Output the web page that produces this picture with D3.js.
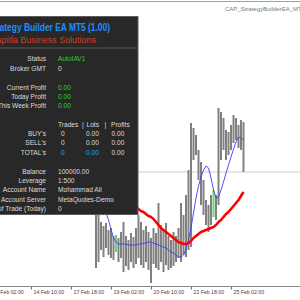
<!DOCTYPE html>
<html>
<head>
<meta charset="utf-8">
<script src="https://cdn.jsdelivr.net/npm/d3@7"></script>
<style>
body { margin: 0; background: #fff; }
svg { display: block; font-family: "Liberation Sans", Arial, sans-serif; }
</style>
</head>
<body>
<div id="chart"></div>
<script>
// price bars (H2), highs and lows
var barHigh = [2795, 2785, 2778, 2774, 2777, 2770, 2772, 2764, 2765, 2762,
               2768, 2778, 2764, 2760, 2767, 2763, 2772, 2785, 2778, 2770,
               2774, 2768, 2762, 2772, 2767, 2797, 2775, 2770, 2777, 2764,
               2760, 2768, 2764, 2772, 2797, 2785, 2805, 2830, 2877, 2872,
               2865, 2850, 2838, 2820, 2800, 2795, 2805, 2810, 2805, 2892,
               2888, 2882, 2870, 2868, 2875, 2885, 2882, 2875, 2880, 2878];
var barLow = [2732, 2738, 2750, 2743, 2752, 2745, 2742, 2740, 2748, 2738,
              2742, 2728, 2734, 2730, 2738, 2732, 2736, 2742, 2735, 2732,
              2738, 2730, 2717, 2736, 2732, 2730, 2738, 2728, 2735, 2730,
              2732, 2734, 2738, 2742, 2738, 2745, 2743, 2750, 2753, 2840,
              2845, 2820, 2795, 2785, 2775, 2768, 2775, 2783, 2780, 2795,
              2840, 2850, 2840, 2845, 2850, 2857, 2860, 2852, 2850, 2828];
var greenBars = [8, 47];

// moving averages
var maFast = [2815, 2808, 2800, 2793, 2787, 2780, 2771, 2762, 2758, 2756,
              2756, 2756, 2756, 2755, 2755, 2755, 2755, 2756, 2756, 2757,
              2757, 2758, 2758, 2757, 2756, 2755, 2754, 2753, 2752, 2750,
              2748, 2747, 2745, 2743, 2743, 2745, 2751, 2760, 2772, 2787,
              2802, 2814, 2823, 2830, 2834, 2832, 2822, 2810, 2802, 2803,
              2810, 2818, 2827, 2835, 2843, 2851, 2858, 2863, 2862, 2860];
var maSlow = [2810, 2809, 2808, 2807, 2806, 2805, 2804, 2803, 2801, 2800,
              2799, 2798, 2797, 2796, 2795, 2794, 2793, 2791, 2789, 2788,
              2786, 2784, 2783, 2781, 2778, 2775, 2772, 2770, 2768, 2766,
              2764, 2762, 2760, 2758, 2757, 2756, 2756, 2757, 2759, 2762,
              2764, 2766, 2768, 2769, 2770, 2771, 2772, 2773, 2775, 2778,
              2780, 2783, 2786, 2788, 2791, 2794, 2797, 2800, 2804, 2808];
var lastPrice = 2828;

// time axis
var tickIndex = [-42, -26, -10, 6, 22, 38, 54];
var tickLabels = ["11 Feb 02:00", "14 Feb 10:00", "17 Feb 18:00", "19 Feb 02:00",
                  "20 Feb 10:00", "21 Feb 18:00", "25 Feb 02:00"];

// info panel rows
var infoLabels = ["Status", "Broker GMT", "Current Profit", "Today Profit", "This Week Profit"];
var infoValues = ["AutoIAV1", "0", "0.00", "0.00", "0.00"];
var tableHeads = ["Trades", "|", "Lots", "|", "Profits"];
var tableRows = ["BUY's", "SELL's", "TOTAL's"];
var tableValues = [["0", "0.00", "0.00"], ["0", "0.00", "0.00"], ["0", "0.00", "0.00"]];
var accountLabels = ["Balance", "Leverage", "Account Name", "Account Server", "No. of Trade (Today)"];
var accountValues = ["100000.00", "1:500", "Mohammad Ali", "MetaQuotes-Demo", "0"];

var width = 300, height = 300;

var svg = d3.select("#chart").append("svg")
    .attr("width", width)
    .attr("height", height);

svg.append("rect")
    .attr("width", width)
    .attr("height", height)
    .attr("fill", "#ffffff");

var x = d3.scaleLinear().domain([0, 59]).range([96, 243.5]);
var y = d3.scaleLinear().domain([2700, 3000]).range([300, 0]);

// top border and caption
svg.append("line")
    .attr("x1", 0).attr("x2", width)
    .attr("y1", 1.5).attr("y2", 1.5)
    .attr("stroke", "#a0a0a0");

svg.append("text")
    .text("CAP_StrategyBuilderEA_MT5")
    .attr("x", 225)
    .attr("y", 11)
    .attr("font-size", 6)
    .attr("fill", "#777");

// current price line
svg.append("line")
    .attr("x1", 0).attr("x2", width)
    .attr("y1", y(lastPrice)).attr("y2", y(lastPrice))
    .attr("stroke", "#cfcfcf");

// bars
var idx = d3.range(barHigh.length);
svg.append("g").selectAll("line")
    .data(idx)
    .enter()
    .append("line")
    .attr("x1", function(d) { return x(d); })
    .attr("x2", function(d) { return x(d); })
    .attr("y1", function(d) { return y(barHigh[d]); })
    .attr("y2", function(d) { return y(barLow[d]); })
    .attr("stroke", function(d) {
        return greenBars.indexOf(d) >= 0 ? "#6fd36f" : "#808080";
    })
    .attr("stroke-width", 2);

var maLine = d3.line()
    .x(function(d, i) { return x(i); })
    .y(function(d) { return y(d); });

svg.append("path")
    .attr("d", maLine(maSlow))
    .attr("fill", "none")
    .attr("stroke", "#ff0000")
    .attr("stroke-width", 2.6)
    .attr("stroke-linejoin", "round");

svg.append("path")
    .attr("d", maLine(maFast))
    .attr("fill", "none")
    .attr("stroke", "#3a3aff")
    .attr("stroke-width", 0.9);

// time axis
var axis = svg.append("g")
    .attr("transform", "translate(0,286.5)")
    .call(d3.axisBottom(x)
        .tickValues(tickIndex)
        .tickSize(3)
        .tickFormat(function(d, i) { return tickLabels[i]; }));

axis.select(".domain").remove();
axis.selectAll(".tick line").attr("stroke", "#666");
axis.selectAll(".tick text")
    .attr("text-anchor", "start")
    .attr("x", 2)
    .attr("y", 4)
    .attr("dy", "0.71em")
    .attr("font-size", 5.2)
    .attr("font-family", "Liberation Sans, Arial, sans-serif")
    .attr("fill", "#444");

axis.append("line")
    .attr("x1", 0).attr("x2", width)
    .attr("stroke", "#888");

// info panel
var panel = svg.append("g").attr("id", "panel");

panel.append("rect")
    .attr("x", -2)
    .attr("y", 16.5)
    .attr("width", 140)
    .attr("height", 198)
    .attr("fill", "#282828")
    .attr("stroke", "#5c5c5c");

panel.append("text")
    .text("CAP Strategy Builder EA MT5 (1.00)")
    .attr("x", 110)
    .attr("y", 31)
    .attr("text-anchor", "end")
    .attr("font-size", 10.5)
    .attr("font-weight", "bold")
    .attr("textLength", 142)
    .attr("lengthAdjust", "spacingAndGlyphs")
    .attr("fill", "#1e8fff");

panel.append("text")
    .text("Capitla Business Solutions")
    .attr("x", 96)
    .attr("y", 42.5)
    .attr("text-anchor", "end")
    .attr("font-size", 8.5)
    .attr("textLength", 106)
    .attr("lengthAdjust", "spacingAndGlyphs")
    .attr("fill", "#c8402a");

panel.append("line")
    .attr("x1", -2).attr("x2", 138)
    .attr("y1", 48).attr("y2", 48)
    .attr("stroke", "#555");

var fs = 6.6;
var labelX = 46, valueX = 58;
var infoY = [61, 70.5, 89.5, 98.8, 108];

panel.selectAll(".info_label")
    .data(infoLabels)
    .enter()
    .append("text")
    .attr("class", "info_label")
    .text(function(d) { return d; })
    .attr("x", labelX)
    .attr("y", function(d, i) { return infoY[i]; })
    .attr("text-anchor", "end")
    .attr("font-size", fs)
    .attr("fill", "#dcdcdc");

panel.selectAll(".info_value")
    .data(infoValues)
    .enter()
    .append("text")
    .attr("class", "info_value")
    .text(function(d) { return d; })
    .attr("x", valueX)
    .attr("y", function(d, i) { return infoY[i]; })
    .attr("font-size", fs)
    .attr("fill", function(d, i) { return i == 1 ? "#dcdcdc" : "#2ed02e"; });

var headX = [58, 82, 86.5, 104.5, 111];
panel.selectAll(".table_head")
    .data(tableHeads)
    .enter()
    .append("text")
    .attr("class", "table_head")
    .text(function(d) { return d; })
    .attr("x", function(d, i) { return headX[i]; })
    .attr("y", 126.5)
    .attr("font-size", fs)
    .attr("fill", "#dcdcdc");

var rowY = [135.8, 145, 154.5];
var colX = [61, 86, 111.5];

var rows = panel.selectAll(".table_row")
    .data(tableRows)
    .enter()
    .append("g")
    .attr("class", "table_row")
    .attr("transform", function(d, i) { return "translate(0," + rowY[i] + ")"; });

rows.append("text")
    .text(function(d) { return d; })
    .attr("x", labelX)
    .attr("text-anchor", "end")
    .attr("font-size", fs)
    .attr("fill", "#dcdcdc");

rows.selectAll(".cell")
    .data(function(d, i) {
        return tableValues[i].map(function(v, j) { return {v: v, row: i, col: j}; });
    })
    .enter()
    .append("text")
    .attr("class", "cell")
    .text(function(d) { return d.v; })
    .attr("x", function(d) { return colX[d.col]; })
    .attr("font-size", fs)
    .attr("fill", function(d) {
        return (d.row == 2 && d.col < 2) ? "#1fa3e6" : "#dcdcdc";
    });

var accY = [173.5, 182.8, 192.2, 201.5, 210.8];

panel.selectAll(".acc_label")
    .data(accountLabels)
    .enter()
    .append("text")
    .attr("class", "acc_label")
    .text(function(d) { return d; })
    .attr("x", labelX)
    .attr("y", function(d, i) { return accY[i]; })
    .attr("text-anchor", "end")
    .attr("font-size", fs)
    .attr("fill", "#dcdcdc");

panel.selectAll(".acc_value")
    .data(accountValues)
    .enter()
    .append("text")
    .attr("class", "acc_value")
    .text(function(d) { return d; })
    .attr("x", valueX)
    .attr("y", function(d, i) { return accY[i]; })
    .attr("font-size", fs)
    .attr("fill", "#dcdcdc");
</script>
</body>
</html>
